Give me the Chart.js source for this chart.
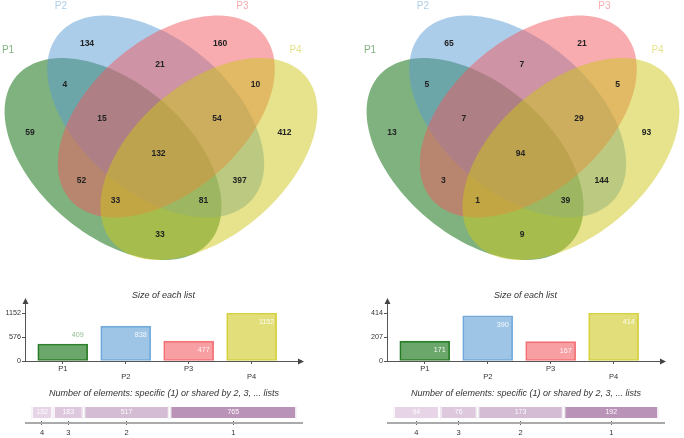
<!DOCTYPE html>
<html>
<head>
<meta charset="utf-8">
<title>Venn diagrams P1-P4</title>
<style>
    body {
        margin: 0;
        width: 684px;
        height: 438px;
        overflow: hidden;
        background: #fff;
        position: relative;
        font-family: "Liberation Sans", Arial, sans-serif;
    }
    .panel {
        position: absolute;
        top: 0;
        width: 322px;
        height: 438px;
    }
    .panel canvas {
        position: absolute;
        left: 0;
    }
</style>
<script src="https://cdn.jsdelivr.net/npm/chart.js@4.4.1/dist/chart.umd.min.js"></script>
</head>
<body>
<div class="panel" style="left:0">
    <canvas id="vennL" width="322" height="270" style="top:0;width:322px;height:270px"></canvas>
    <canvas id="sizeL" width="322" height="105" style="top:280px;width:322px;height:105px"></canvas>
    <canvas id="sharedL" width="322" height="54" style="top:384px;width:322px;height:54px"></canvas>
</div>
<div class="panel" style="left:362px">
    <canvas id="vennR" width="322" height="270" style="top:0;width:322px;height:270px"></canvas>
    <canvas id="sizeR" width="322" height="105" style="top:280px;width:322px;height:105px"></canvas>
    <canvas id="sharedR" width="322" height="54" style="top:384px;width:322px;height:54px"></canvas>
</div>
<script>
// ---- data ----
const sets = ['P1', 'P2', 'P3', 'P4'];
// regions of the 4-set venn (which lists share the elements)
const regions = ['1', '2', '3', '4', '12', '23', '34', '123', '234', '1234', '13', '24', '134', '124', '14'];
const countsLeft = [59, 134, 160, 412, 4, 21, 10, 15, 54, 132, 52, 397, 33, 81, 33];
const countsRight = [13, 65, 21, 93, 5, 7, 5, 7, 29, 94, 3, 144, 1, 39, 9];
const sizesLeft = [409, 838, 477, 1152];
const sizesRight = [171, 390, 167, 414];
const sharedLabels = ['4', '3', '2', '1'];
const sharedLeft = [132, 183, 517, 765];
const sharedRight = [94, 76, 173, 192];

// ---- layout / style ----
const FONT = '"Liberation Sans", Arial, sans-serif';
const SET_COLORS = [[0, 102, 0], [90, 155, 212], [241, 90, 96], [205, 200, 25]];
const SHARED_COLORS = ['rgb(231,213,231)', 'rgb(222,200,222)', 'rgb(212,188,212)', 'rgb(186,147,184)'];
const rgba = (c, a) => `rgba(${c[0]},${c[1]},${c[2]},${a})`;

// venn units: 1 unit = KX px horizontally, KY px vertically
const KX = 108.5, KY = 101, VCX = 161, VCY = 137;
const AX_A = 1.212, AX_B = 0.728;
const ELLIPSES = [
    { dx: -0.442, dy: 0.218, dir: 1 },
    { dx: -0.049, dy: -0.203, dir: 1 },
    { dx: 0.049, dy: -0.203, dir: -1 },
    { dx: 0.442, dy: 0.218, dir: -1 }
];
const REGION_POS = [[-1.207, -0.04], [-0.682, -0.921], [0.544, -0.921], [1.138, -0.04], [-0.885, -0.515],
    [-0.01, -0.713], [0.871, -0.515], [-0.544, -0.178], [0.516, -0.178], [-0.023, 0.168],
    [-0.733, 0.436], [0.724, 0.436], [-0.419, 0.634], [0.392, 0.634], [-0.009, 0.97]];
const SET_POS = [[-1.41, -0.861], [-0.922, -1.297], [0.751, -1.297], [1.24, -0.856]];

const vennPlugin = {
    id: 'venn',
    beforeDatasetsDraw(chart) {
        const ctx = chart.ctx, sx = chart.scales.x, sy = chart.scales.y;
        ELLIPSES.forEach((e, i) => {
            ctx.beginPath();
            for (let k = 0; k <= 120; k++) {
                const t = k / 120 * Math.PI * 2;
                const u = AX_A * Math.cos(t), v = AX_B * Math.sin(t);
                const x = e.dx + (e.dir > 0 ? (u - v) : (u + v)) / Math.SQRT2;
                const y = e.dy + (e.dir > 0 ? (u + v) : (v - u)) / Math.SQRT2;
                const px = sx.getPixelForValue(x), py = sy.getPixelForValue(y);
                if (k === 0) ctx.moveTo(px, py); else ctx.lineTo(px, py);
            }
            ctx.closePath();
            ctx.fillStyle = rgba(SET_COLORS[i], 0.5);
            ctx.fill();
        });
    },
    afterDatasetsDraw(chart) {
        const ctx = chart.ctx;
        ctx.save();
        ctx.textAlign = 'center';
        ctx.textBaseline = 'middle';
        const counts = chart.getDatasetMeta(0);
        ctx.font = 'bold 8.5px ' + FONT;
        ctx.fillStyle = '#222';
        counts.data.forEach((el, i) => {
            ctx.fillText(String(chart.data.datasets[0].data[i].v), el.x, el.y);
        });
        const names = chart.getDatasetMeta(1);
        ctx.font = '10px ' + FONT;
        names.data.forEach((el, i) => {
            ctx.fillStyle = rgba(SET_COLORS[i], 0.5);
            ctx.fillText(chart.data.datasets[1].data[i].v, el.x, el.y);
        });
        ctx.restore();
    }
};

function vennChart(id, counts) {
    const w = 322, h = 270;
    return new Chart(document.getElementById(id), {
        type: 'scatter',
        data: {
            datasets: [
                { data: regions.map((r, i) => ({ x: REGION_POS[i][0], y: REGION_POS[i][1], v: counts[i] })), pointRadius: 0 },
                { data: sets.map((s, i) => ({ x: SET_POS[i][0], y: SET_POS[i][1], v: s })), pointRadius: 0 }
            ]
        },
        options: {
            responsive: false,
            animation: false,
            events: [],
            layout: { padding: 0 },
            plugins: { legend: { display: false }, tooltip: { enabled: false } },
            scales: {
                x: { type: 'linear', display: false, min: -VCX / KX, max: (w - VCX) / KX },
                y: { type: 'linear', display: false, reverse: true, min: -VCY / KY, max: (h - VCY) / KY }
            }
        },
        plugins: [vennPlugin]
    });
}

function titlePlugin(text, dy) {
    return {
        id: 'ttl',
        afterDraw(chart) {
            const ctx = chart.ctx, ca = chart.chartArea;
            ctx.save();
            ctx.font = 'italic 9px ' + FONT;
            ctx.fillStyle = '#333';
            ctx.textAlign = 'center';
            ctx.textBaseline = 'middle';
            ctx.fillText(text, (ca.left + ca.right) / 2, ca.top - dy);
            ctx.restore();
        }
    };
}

const arrowAxes = {
    id: 'arrowAxes',
    afterDraw(chart) {
        const ctx = chart.ctx, ca = chart.chartArea;
        ctx.save();
        ctx.strokeStyle = '#555';
        ctx.fillStyle = '#444';
        ctx.lineWidth = 1;
        ctx.beginPath();
        ctx.moveTo(ca.left + 0.5, ca.bottom + 0.5);
        ctx.lineTo(ca.left + 0.5, ca.top - 10);
        ctx.moveTo(ca.left, ca.bottom + 0.5);
        ctx.lineTo(ca.right - 2, ca.bottom + 0.5);
        ctx.stroke();
        ctx.beginPath();
        ctx.moveTo(ca.left + 0.5, ca.top - 15);
        ctx.lineTo(ca.left - 2.5, ca.top - 9);
        ctx.lineTo(ca.left + 3.5, ca.top - 9);
        ctx.closePath();
        ctx.moveTo(ca.right + 2, ca.bottom + 0.5);
        ctx.lineTo(ca.right - 4, ca.bottom - 2.5);
        ctx.lineTo(ca.right - 4, ca.bottom + 3.5);
        ctx.closePath();
        ctx.fill();
        ctx.restore();
    }
};

const barValues = {
    id: 'barValues',
    afterDatasetsDraw(chart) {
        const ctx = chart.ctx;
        const ds = chart.data.datasets[0];
        ctx.save();
        ctx.font = '7.2px ' + FONT;
        ctx.textAlign = 'center';
        ctx.textBaseline = 'middle';
        chart.getDatasetMeta(0).data.forEach((el, i) => {
            const h = el.base - el.y;
            const x = el.x + 15;
            if (h >= 18) {
                ctx.fillStyle = 'rgba(255,255,255,0.9)';
                ctx.fillText(String(ds.data[i].y), x, el.y + 9);
            } else {
                ctx.fillStyle = rgba(SET_COLORS[i], 0.45);
                ctx.fillText(String(ds.data[i].y), x, el.y - 9);
            }
        });
        ctx.restore();
    }
};

function sizeChart(id, sizes) {
    const max = Math.max(...sizes);
    return new Chart(document.getElementById(id), {
        type: 'bar',
        data: {
            datasets: [{
                data: sizes.map((v, i) => ({ x: i + 1, y: v })),
                backgroundColor: SET_COLORS.map(c => rgba(c, 0.58)),
                borderColor: SET_COLORS.map(c => rgba(c, 0.8)),
                borderWidth: 1,
                borderSkipped: false,
                barThickness: 50
            }]
        },
        options: {
            responsive: false,
            animation: false,
            events: [],
            layout: { padding: { left: 0, top: 33, right: 20, bottom: 0 } },
            plugins: { legend: { display: false }, tooltip: { enabled: false } },
            scales: {
                x: {
                    type: 'linear', min: 0.4, max: 4.8, offset: false,
                    border: { display: false },
                    grid: { drawOnChartArea: false, offset: false, tickLength: 3, color: '#555' },
                    afterBuildTicks: s => { s.ticks = sets.map((_, i) => ({ value: i + 1 })); },
                    ticks: {
                        autoSkip: false, maxRotation: 0, padding: 1, color: '#333',
                        font: { family: FONT, size: 7.5, lineHeight: 1.07 },
                        callback: (v, i) => i % 2 ? ['', sets[i]] : sets[i]
                    },
                    afterFit: s => { s.height = 24; }
                },
                y: {
                    min: 0, max: max,
                    border: { display: false },
                    grid: { drawOnChartArea: false, tickLength: 3, color: '#555' },
                    afterBuildTicks: s => { s.ticks = [0, max / 2, max].map(v => ({ value: v })); },
                    ticks: { padding: 1, color: '#333', font: { family: FONT, size: 7.2 }, callback: v => String(v) },
                    afterFit: s => { s.width = 25; }
                }
            }
        },
        plugins: [arrowAxes, barValues, titlePlugin('Size of each list', 18)]
    });
}

const sharedDecor = {
    id: 'sharedDecor',
    afterDraw(chart) {
        const ctx = chart.ctx, ca = chart.chartArea;
        ctx.save();
        ctx.strokeStyle = '#aaa';
        ctx.lineWidth = 2;
        ctx.beginPath();
        ctx.moveTo(ca.left - 6, ca.bottom + 2);
        ctx.lineTo(ca.right + 6, ca.bottom + 2);
        ctx.stroke();
        ctx.font = '7px ' + FONT;
        ctx.fillStyle = 'rgba(255,255,255,0.95)';
        ctx.textAlign = 'center';
        ctx.textBaseline = 'middle';
        chart.data.datasets.forEach((ds, i) => {
            const el = chart.getDatasetMeta(i).data[0];
            ctx.fillText(String(ds.data[0]), (el.x + el.base) / 2, el.y);
        });
        ctx.restore();
    }
};

function sharedChart(id, counts) {
    const total = counts.reduce((a, b) => a + b, 0);
    return new Chart(document.getElementById(id), {
        type: 'bar',
        data: {
            labels: ['elements'],
            datasets: counts.map((v, i) => ({
                label: sharedLabels[i],
                data: [v],
                backgroundColor: SHARED_COLORS[i],
                borderColor: 'rgba(165,150,165,0.9)',
                borderWidth: 1,
                borderSkipped: false,
                inflateAmount: -0.8,
                barThickness: 14.5
            }))
        },
        options: {
            indexAxis: 'y',
            responsive: false,
            animation: false,
            events: [],
            layout: { padding: { left: 31, right: 25, top: 20, bottom: 0 } },
            plugins: { legend: { display: false }, tooltip: { enabled: false } },
            scales: {
                y: { display: false, stacked: true },
                x: {
                    stacked: true, min: 0, max: total,
                    border: { display: false },
                    grid: { drawOnChartArea: false, tickLength: 4, color: '#666' },
                    afterBuildTicks: s => {
                        let c = 0;
                        s.ticks = counts.map(v => { const m = c + v / 2; c += v; return { value: m }; });
                    },
                    ticks: {
                        autoSkip: false, maxRotation: 0, padding: 4, color: '#333',
                        font: { family: FONT, size: 7.5, lineHeight: 1 },
                        callback: (v, i) => sharedLabels[i]
                    },
                    afterFit: s => { s.height = 17; }
                }
            }
        },
        plugins: [sharedDecor, titlePlugin('Number of elements: specific (1) or shared by 2, 3, ... lists', 11)]
    });
}

vennChart('vennL', countsLeft);
vennChart('vennR', countsRight);
sizeChart('sizeL', sizesLeft);
sizeChart('sizeR', sizesRight);
sharedChart('sharedL', sharedLeft);
sharedChart('sharedR', sharedRight);
</script>
</body>
</html>
